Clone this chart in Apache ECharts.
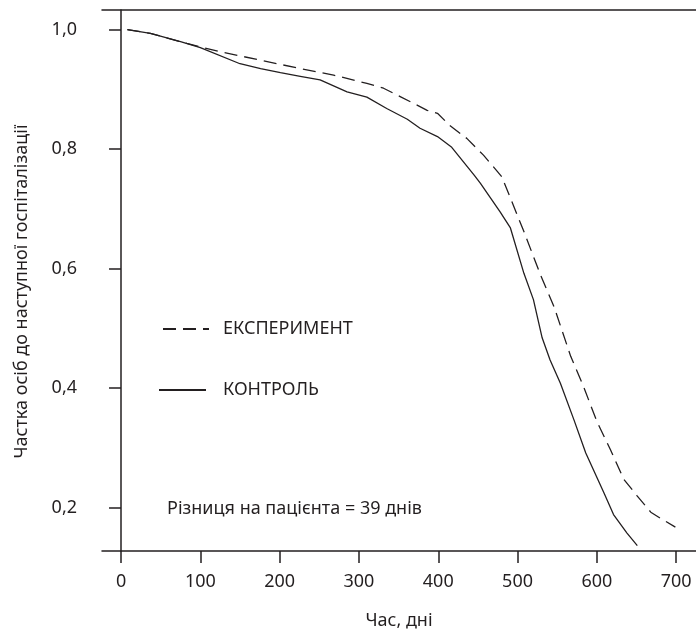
<!DOCTYPE html>
<html>
<head>
<meta charset="utf-8">
<style>
  html,body{margin:0;padding:0;background:#fff;}
  #chart{width:696px;height:635px;}
</style>
<script src="https://cdn.jsdelivr.net/npm/echarts@6/dist/echarts.min.js"></script>
</head>
<body>
<div id="chart"></div>
<script>
'use strict';

/* ---------- data ---------- */
const xTicks = [0, 100, 200, 300, 400, 500, 600, 700];
const yTicks = [0.2, 0.4, 0.6, 0.8, 1.0];

// [day, share without rehospitalisation]
const experiment = [
  [8,1.000],[37,0.994],[83,0.977],[125,0.963],[176,0.949],[222,0.936],[268,0.924],
  [310,0.910],[331,0.902],[352,0.888],[386,0.865],[399,0.860],[415,0.839],[436,0.818],
  [457,0.790],[480,0.754],[491,0.718],[508,0.662],[529,0.589],[546,0.536],[567,0.453],
  [583,0.403],[600,0.344],[617,0.297],[634,0.247],[651,0.219],[668,0.192],[680,0.182],[699,0.167],
];
const control = [
  [8,1.000],[37,0.994],[75,0.980],[100,0.970],[150,0.943],[176,0.935],[201,0.928],
  [226,0.922],[251,0.916],[285,0.896],[310,0.887],[335,0.868],[361,0.850],[377,0.835],
  [399,0.821],[417,0.803],[445,0.757],[453,0.743],[478,0.695],[491,0.668],[508,0.592],
  [520,0.548],[531,0.484],[541,0.447],[554,0.408],[571,0.347],[586,0.291],[609,0.224],
  [621,0.188],[638,0.157],[651,0.136],
];

const NAMES = {exp:'ЕКСПЕРИМЕНТ', ctl:'КОНТРОЛЬ'};
const NOTE = 'Різниця на пацієнта = 39 днів';

/* ---------- style ---------- */
const INK = '#231f20';
const FONT = '"Noto Sans", sans-serif';
const FS = 18;
const axisLine = {show:true, lineStyle:{color:INK, width:1.5}};
const legendText = pad => ({fontSize:FS, color:INK, fontFamily:FONT, padding:[0,0,0,pad]});

const chart = echarts.init(document.getElementById('chart'));
chart.setOption({
  animation:false,
  textStyle:{fontFamily:FONT, color:INK},
  grid:{left:102, top:10, right:0, bottom:83},
  legend:[
    {data:[NAMES.exp], left:162, top:320, padding:0, itemWidth:46, itemHeight:12, selectedMode:false,
     itemStyle:{opacity:0}, textStyle:legendText(9)},
    {data:[NAMES.ctl], left:158, top:381, padding:0, itemWidth:47, itemHeight:12, selectedMode:false,
     itemStyle:{opacity:0}, textStyle:legendText(12)},
  ],
  graphic:[
    {type:'text', left:167, top:500, style:{text:NOTE, fontSize:FS, fontFamily:FONT, fill:INK}},
  ],
  xAxis:[
    {type:'value', min:-24, max:725, position:'bottom',
     name:'Час, дні', nameLocation:'middle', nameGap:61,
     nameTextStyle:{fontSize:FS, color:INK, fontFamily:FONT},
     axisLine, splitLine:{show:false},
     axisTick:{show:true, length:12, lineStyle:{color:INK, width:1.5}, customValues:xTicks},
     axisLabel:{fontSize:FS, color:INK, margin:22, customValues:xTicks}},
    {type:'value', min:-24, max:725, position:'top',
     axisLine, axisTick:{show:false}, axisLabel:{show:false}, splitLine:{show:false}},
  ],
  yAxis:{type:'value', min:0.127, max:1.033,
    name:'Частка осіб до наступної госпіталізації', nameLocation:'middle', nameGap:71,
    nameTextStyle:{fontSize:FS, color:INK, fontFamily:FONT, padding:[0,22,0,0]},
    axisLine, splitLine:{show:false},
    axisTick:{show:true, length:12, lineStyle:{color:INK, width:1.5}, customValues:yTicks},
    axisLabel:{fontSize:FS, color:INK, margin:25, customValues:yTicks,
      formatter:v=>v.toFixed(1).replace('.', ',')}},
  series:[
    {name:NAMES.exp, type:'line', data:experiment, symbol:'none', smooth:false,
     lineStyle:{color:INK, width:1.3, type:[13,7]}, itemStyle:{color:INK}, z:3},
    {name:NAMES.ctl, type:'line', data:control, symbol:'none', smooth:false,
     lineStyle:{color:INK, width:1.3, type:'solid'}, itemStyle:{color:INK}, z:4},
  ],
});
</script>
</body>
</html>
